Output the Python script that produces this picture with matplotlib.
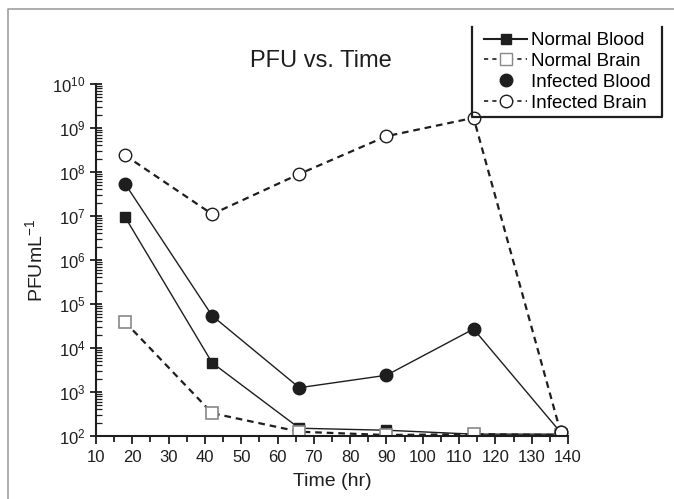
import matplotlib
matplotlib.use("Agg")
import matplotlib.pyplot as plt
from matplotlib.lines import Line2D
from matplotlib.ticker import LogLocator, MultipleLocator, LogFormatterMathtext

plt.rcParams["font.family"] = ["Liberation Sans", "DejaVu Sans"]
plt.rcParams["mathtext.fontset"] = "custom"
plt.rcParams["mathtext.rm"] = "Liberation Sans"

time_hr = [18, 42, 66, 90, 114, 138]
normal_blood = [9.5e6, 4.6e3, 150, 135, 110, 110]
normal_brain = [3.9e4, 330, 125, 105, 110, 105]
infected_blood = [5.4e7, 5.4e4, 1.25e3, 2.4e3, 2.7e4, 120]
infected_brain = [2.4e8, 1.1e7, 9e7, 6.5e8, 1.7e9, 120]

dark = "#1e1e1e"
fig = plt.figure(figsize=(6.74, 4.99), dpi=100)
ax = fig.add_axes([0.1424, 0.1263, 0.7003, 0.7054])

ax.plot(time_hr, normal_blood, "-", color=dark, lw=1.0, marker="s", ms=7,
        mfc=dark, mec=dark)
ax.plot(time_hr, normal_brain, "--", color=dark, lw=1.6, dashes=(3, 2.2),
        marker="s", ms=8, mfc="white", mec="#888888", mew=1.2)
ax.plot(time_hr, infected_blood, "-", color=dark, lw=1.0, marker="o", ms=9,
        mfc=dark, mec=dark)
ax.plot(time_hr, infected_brain, "--", color=dark, lw=1.6, dashes=(3, 2.2),
        marker="o", ms=9, mfc="white", mec=dark, mew=1.0)

ax.set_yscale("log")
ax.set_xlim(10, 140)
ax.set_ylim(1e2, 1e10)
ax.xaxis.set_major_locator(MultipleLocator(10))
ax.xaxis.set_minor_locator(MultipleLocator(5))
ax.yaxis.set_major_locator(LogLocator(base=10, numticks=20))
ax.yaxis.set_minor_locator(LogLocator(base=10, subs=range(2, 10), numticks=20))
ax.yaxis.set_major_formatter(LogFormatterMathtext())

for side in ["top", "right"]:
    ax.spines[side].set_visible(False)
for side in ["left", "bottom"]:
    ax.spines[side].set_linewidth(1.5)
    ax.spines[side].set_color(dark)

ax.tick_params(axis="x", which="major", direction="out", length=6, width=1.3,
               labelsize=12, colors=dark, pad=4)
ax.tick_params(axis="x", which="minor", direction="out", length=4, width=1.3, colors=dark)
ax.tick_params(axis="y", which="major", direction="inout", length=8, width=1.3,
               labelsize=12, colors=dark)
ax.tick_params(axis="y", which="minor", direction="in", length=4, width=0.9, colors=dark)

ax.set_xlabel("Time (hr)", fontsize=14, color=dark, labelpad=6)
ax.set_ylabel("PFUmL$^{-1}$", fontsize=14, color=dark, labelpad=4)
fig.text(0.476, 0.877, "PFU vs. Time", fontsize=17, color=dark, ha="center", va="center")

# legend, handles rebuilt so "Infected Blood" shows the marker alone
handles = [
    Line2D([], [], ls="-", color=dark, lw=1.5, marker="s", ms=7, mfc=dark, mec=dark),
    Line2D([], [], ls="--", color=dark, lw=1.2, dashes=(2.5, 2.5), marker="s", ms=8,
           mfc="white", mec="#888888"),
    Line2D([], [], ls="none", marker="o", ms=9, mfc=dark, mec=dark),
    Line2D([], [], ls="--", color=dark, lw=1.2, dashes=(2.5, 2.5), marker="o", ms=9,
           mfc="white", mec=dark),
]
labels = ["Normal Blood", "Normal Brain", "Infected Blood", "Infected Brain"]
fig.legend(handles, labels, loc="upper left", bbox_to_anchor=(484 / 674, 1 - 32 / 499),
           frameon=False, fontsize=13.5, handlelength=2.3, handletextpad=0.2,
           labelspacing=0.2, borderaxespad=0, borderpad=0)

# open-topped box round the legend and the grey figure frame
x0, x1 = 472 / 674, 662 / 674
y0, y1 = 1 - 117 / 499, 1 - 27 / 499
fig.add_artist(Line2D([x0, x0, x1, x1], [y1, y0, y0, y1], color=dark, lw=1.6,
                      transform=fig.transFigure))
fig.add_artist(Line2D([8 / 674, 8 / 674, 1.0], [0.0, 1 - 9 / 499, 1 - 9 / 499],
                      color="#a0a0a0", lw=1.2, transform=fig.transFigure))

fig.savefig("out.png", dpi=100)
